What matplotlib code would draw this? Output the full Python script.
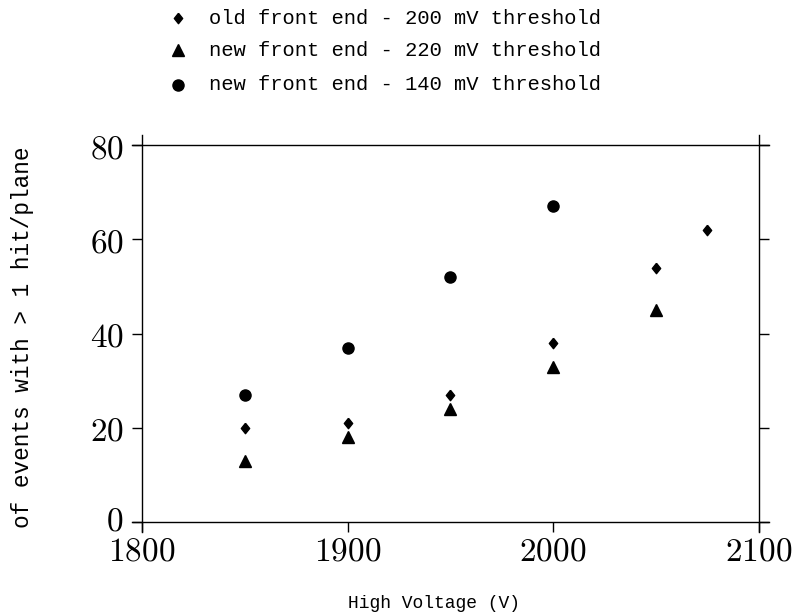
import matplotlib.pyplot as plt
import matplotlib.transforms as mtransforms

plt.rcParams['mathtext.fontset'] = 'cm'

# hits per plane vs. high voltage for the three front-end settings
hv_old_200 = [1850, 1900, 1950, 2000, 2050, 2075]
pct_old_200 = [20, 21, 27, 38, 54, 62]

hv_new_220 = [1850, 1900, 1950, 2000, 2050]
pct_new_220 = [13, 18, 24, 33, 45]

hv_new_140 = [1850, 1900, 1950, 2000]
pct_new_140 = [27, 37, 52, 67]

labels = ['old front end - 200 mV threshold',
          'new front end - 220 mV threshold',
          'new front end - 140 mV threshold']

x_ticks = [1800, 1900, 2000, 2100]
y_ticks = [0, 20, 40, 60, 80]

txt_font = 'Liberation Mono'
# slightly squat diamond
diamond = [(0, 1), (0.8, 0), (0, -1), (-0.8, 0), (0, 1)]

fig = plt.figure(figsize=(7.96, 6.14), dpi=100)
ax = fig.add_axes([0.1784, 0.1498, 0.7745, 0.614])

ax.plot(hv_old_200, pct_old_200, color='k', marker=diamond, ms=7.5, ls='none')
ax.plot(hv_new_220, pct_new_220, 'k^', ms=9, ls='none')
ax.plot(hv_new_140, pct_new_140, 'ko', ms=8, ls='none')

ax.set_xlim(1800, 2100)
ax.set_ylim(0, 80)
ax.set_xticks(x_ticks)
ax.set_yticks(y_ticks)
ax.set_xticklabels(['$%d$' % v for v in x_ticks], fontsize=24)
ax.set_yticklabels(['$%d$' % v for v in y_ticks], fontsize=24)
ax.tick_params(axis='y', direction='out', length=7.2, width=1, left=True, right=True, pad=6)
ax.tick_params(axis='x', direction='out', length=7.2, width=1, pad=2)

# nudge the "0" label up so it clears "1800"
zero_lbl = ax.get_yticklabels()[0]
zero_lbl.set_transform(zero_lbl.get_transform() +
                       mtransforms.ScaledTranslation(0, 3 / 72, fig.dpi_scale_trans))

# frame lines run past the corners by one tick length
for s in ['left', 'right']:
    ax.spines[s].set_bounds(-2.1, 82.1)
for s in ['top', 'bottom']:
    ax.spines[s].set_bounds(1795.1, 2104.9)
for s in ax.spines.values():
    s.set_linewidth(1)

fig.text(0.545, 0.004, 'High Voltage (V)', family=txt_font, fontsize=13,
         ha='center', va='bottom')
fig.text(0.028, 0.45, 'of events with > 1 hit/plane', family=txt_font, fontsize=16.4,
         rotation=90, ha='center', va='center')

# legend rows above the plot
key_markers = [diamond, '^', 'o']
key_sizes = [7.5, 9, 8]
key_y = [0.970, 0.918, 0.862]
for m, ms, yy, lab in zip(key_markers, key_sizes, key_y, labels):
    fig.lines.append(plt.Line2D([0.2236], [yy], marker=m, ms=ms, color='k',
                                ls='none', transform=fig.transFigure))
    fig.text(0.2625, yy, lab, family=txt_font, fontsize=14.8, va='center', ha='left')

fig.savefig('out.png', dpi=100)
